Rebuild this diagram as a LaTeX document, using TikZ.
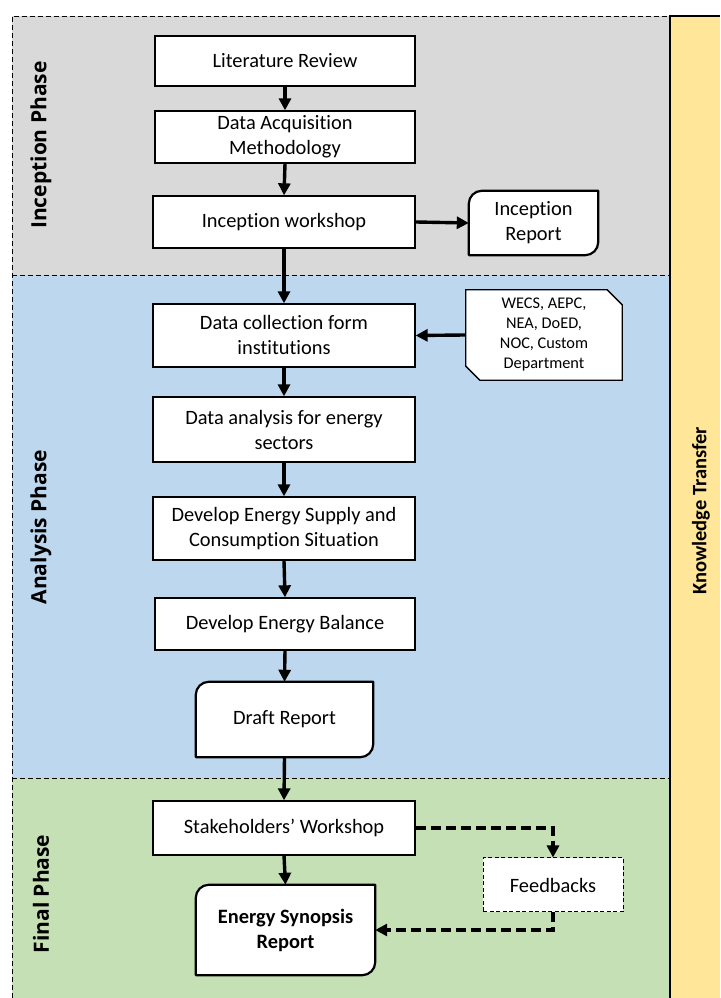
\documentclass[tikz,border=0pt]{standalone}
\usepackage{fontspec}
\setmainfont{Carlito}[Ligatures=NoCommon]
\newfontfamily\phasefont{Open Sans}
\usetikzlibrary{arrows.meta,calc}
\definecolor{bandgray}{HTML}{D9D9D9}
\definecolor{bandblue}{HTML}{BDD7EE}
\definecolor{bandgreen}{HTML}{C5E0B4}
\definecolor{bandyellow}{HTML}{FFE699}
\tikzset{
  stepbox/.style={draw=black, line width=1.3pt, fill=white, align=center, inner sep=2pt,
    font=\fontsize{20.4}{25}\selectfont},
  docbox/.style={draw=none, fill=none, align=center, inner sep=2pt,
    font=\fontsize{20.4}{25}\selectfont},
  docline/.style={draw=black, line width=2.2pt, fill=white, line join=round},
  notebox/.style={draw=none, align=center, inner sep=1pt, font=\fontsize{16.3}{20}\selectfont},
  flow/.style={line width=3.4pt, -{Triangle[length=12pt,width=12pt]}},
  dflow/.style={line width=3.4pt, dash pattern=on 10pt off 5pt, -{Triangle[length=12pt,width=12pt]}},
  sepline/.style={line width=0.9pt, dash pattern=on 5pt off 3pt},
  phaselabel/.style={rotate=90, font=\phasefont\bfseries\fontsize{21}{24}\selectfont},
}
\newcommand{\docoutline}[1]{%
  \filldraw[docline] (#1.south west) -- ([yshift=-13pt]#1.north west)
    arc[start angle=180,end angle=90,radius=13pt] -- (#1.north east)
    -- ([yshift=13pt]#1.south east) arc[start angle=0,end angle=-90,radius=13pt] -- cycle;}
\begin{document}
\begin{tikzpicture}[x=1pt,y=1pt]
\useasboundingbox (0,0) rectangle (720,998);
% bands
\fill[bandgray] (12,723) rectangle (670,982);
\fill[bandblue] (12,220) rectangle (670,723);
\fill[bandgreen] (12,0) rectangle (670,220);
\fill[bandyellow] (670,0) rectangle (720,982);
\draw[line width=2pt] (670,0) -- (670,982) -- (720,982);
\draw[sepline] (12,0) -- (12,982) -- (670,982);
\draw[sepline] (12,723) -- (670,723);
\draw[sepline] (12,220) -- (670,220);
% phase labels
\node[phaselabel] (pin) at (41,853) {Inception Phase};
\node[phaselabel] (pan) at (41,471) {Analysis Phase};
\node[phaselabel] (pfi) at (41,104) {Final Phase};
\node[rotate=90, font=\bfseries\fontsize{20.5}{23}\selectfont] (kt) at (701,487) {Knowledge Transfer};
% boxes
\node[stepbox, minimum width=260pt, minimum height=50pt] (lit) at (285,937) {Literature Review};
\node[stepbox, minimum width=260pt, minimum height=52pt] (daq) at (285,861) {Data Acquisition\\Methodology};
\node[stepbox, minimum width=262pt, minimum height=52pt] (iws) at (284,776) {Inception workshop};
\node[docbox, minimum width=129pt, minimum height=64pt] (irep) at (533.5,775) {};
\docoutline{irep}
\node[docbox] at (irep) {Inception\\Report};
\node[stepbox, minimum width=262pt, minimum height=63pt] (dcol) at (284,662.5) {Data collection form\\institutions};
\node[notebox, minimum width=156pt, minimum height=90pt] (wecs) at (544,663) {};
\filldraw[draw=black, line width=1.3pt, fill=white]
  (wecs.north west) -- ([xshift=-15pt]wecs.north east) -- ([yshift=-15pt]wecs.north east)
  -- (wecs.south east) -- ([xshift=14pt]wecs.south west) -- ([yshift=14pt]wecs.south west) -- cycle;
\node[notebox] at (wecs) {WECS, AEPC,\\NEA, DoED,\\NOC, Custom\\Department};
\node[stepbox, minimum width=262pt, minimum height=65pt] (dana) at (284,568.5) {Data analysis for energy\\sectors};
\node[stepbox, minimum width=262pt, minimum height=63pt] (dsup) at (284,469.5) {Develop Energy Supply and\\Consumption Situation};
\node[stepbox, minimum width=260pt, minimum height=52pt] (dbal) at (285,374) {Develop Energy Balance};
\node[docbox, minimum width=177pt, minimum height=75pt] (draft) at (284.5,278.5) {};
\docoutline{draft}
\node[docbox] at (draft) {Draft Report};
\node[stepbox, minimum width=262pt, minimum height=54pt] (stake) at (284,170) {Stakeholders’ Workshop};
\node[stepbox, dash pattern=on 4pt off 2.5pt, line width=1pt, minimum width=140pt, minimum height=54pt] (feed) at (553,113) {Feedbacks};
\node[docbox, minimum width=179pt, minimum height=90pt] (syn) at (285.5,68) {};
\docoutline{syn}
\node[docbox, font=\bfseries\fontsize{20.4}{25}\selectfont] at (syn) {Energy Synopsis\\Report};
% connectors
\draw[flow] (lit.south) -- (daq.north);
\draw[flow] (daq.south) -- (iws.north);
\draw[flow] (iws.east) -- (irep.west);
\draw[flow] (iws.south) -- (dcol.north);
\draw[flow] (wecs.west) -- (dcol.east);
\draw[flow] (dcol.south) -- (dana.north);
\draw[flow] (dana.south) -- (dsup.north);
\draw[flow] (dsup.south) -- (dbal.north);
\draw[flow] (dbal.south) -- (draft.north);
\draw[flow] (draft.south) -- (stake.north);
\draw[flow] (stake.south) -- (syn.north);
\draw[dflow] (stake.east) -| (feed.north);
\draw[dflow] (feed.south) |- (syn.east);
\end{tikzpicture}
\end{document}
